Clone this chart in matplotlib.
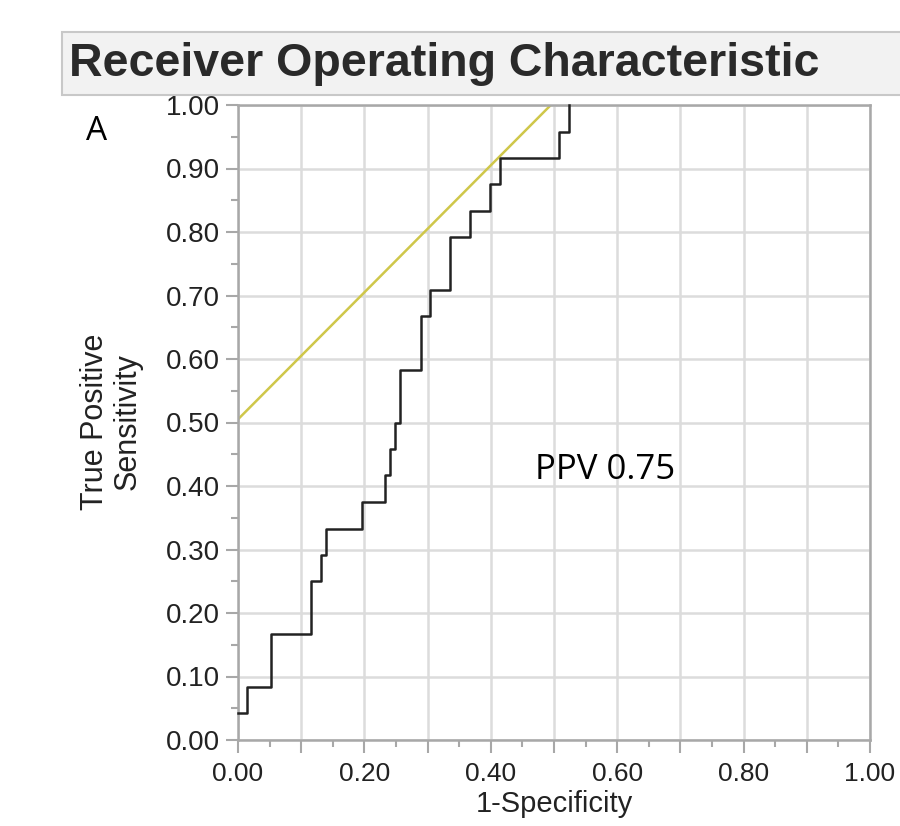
import matplotlib.pyplot as plt
from matplotlib.patches import Rectangle
import numpy as np

# ROC corner points (after each vertical rise)
fpr = [0.0, 0.014, 0.053, 0.116, 0.131, 0.140, 0.196, 0.233, 0.241,
       0.249, 0.257, 0.289, 0.304, 0.335, 0.367, 0.398, 0.415, 0.508, 0.524]
tpr = [0.042, 0.083, 0.167, 0.250, 0.292, 0.333, 0.375, 0.417, 0.458,
       0.500, 0.583, 0.667, 0.708, 0.792, 0.833, 0.875, 0.917, 0.958, 1.0]
tangent_x = [0.0, 0.495]
tangent_y = [0.505, 1.0]
x_ticks = [0.0, 0.2, 0.4, 0.6, 0.8, 1.0]
y_ticks = [0.0, 0.1, 0.2, 0.3, 0.4, 0.5, 0.6, 0.7, 0.8, 0.9, 1.0]

plt.rcParams['font.family'] = ['Liberation Sans', 'DejaVu Sans']

fig = plt.figure(figsize=(9, 8.26), dpi=100)
ax = fig.add_axes([238/900, 1-740/826, 632/900, 635/826])

grid_c = '#dcdcdc'
spine_c = '#a8a8a8'

ax.set_xlim(0, 1)
ax.set_ylim(0, 1)
ax.set_xticks(np.arange(0, 1.01, 0.1))
ax.set_xticklabels(['%.2f' % v if any(abs(v - t) < 1e-6 for t in x_ticks) else '' for v in np.arange(0, 1.01, 0.1)])
ax.set_xticks(np.arange(0.05, 1.0, 0.1), minor=True)
ax.set_yticks(y_ticks)
ax.set_yticklabels(['%.2f' % v for v in y_ticks])
ax.set_yticks(np.arange(0.05, 1.0, 0.1), minor=True)
ax.grid(True, which='major', color=grid_c, lw=1.8, zorder=0)
ax.set_axisbelow(True)

for s in ax.spines.values():
    s.set_color(spine_c)
    s.set_linewidth(1.8)

ax.tick_params(which='major', length=9, width=1.5, color=spine_c, labelsize=20,
               labelcolor='#222222', pad=4)
ax.tick_params(axis='x', which='major', pad=7, labelsize=19)
ax.tick_params(which='minor', length=5, width=1.5, color=spine_c)

ax.plot(tangent_x, tangent_y, color='#cfc74a', lw=1.8, zorder=2)
ax.plot(fpr, tpr, drawstyle='steps-post', color='#222222', lw=1.8, zorder=3, clip_on=False)

ax.set_xlabel('1-Specificity', fontsize=21, color='#222222', labelpad=3)
fig.text(111/900, 1-422/826, 'True Positive\nSensitivity', rotation=90, fontsize=22,
         color='#222222', ha='center', va='center', linespacing=1.1)

fig.text(97/900, 1-131/826, 'A', fontsize=24, family='Open Sans', ha='center', va='center')
ax.text(0.47, 0.425, 'PPV 0.75', fontsize=25, family='Open Sans', ha='left', va='center')

# title box
fig.add_artist(Rectangle((62/900, 1-95/826), 850/900, 63/826, transform=fig.transFigure,
                         facecolor='#f2f2f2', edgecolor='#c8c8c8', lw=1.5))
fig.text(69/900, 1-64/826, 'Receiver Operating Characteristic', fontsize=33.5,
         fontweight='bold', color='#2a2a2a', ha='left', va='center')

fig.savefig('out.png', dpi=100)
